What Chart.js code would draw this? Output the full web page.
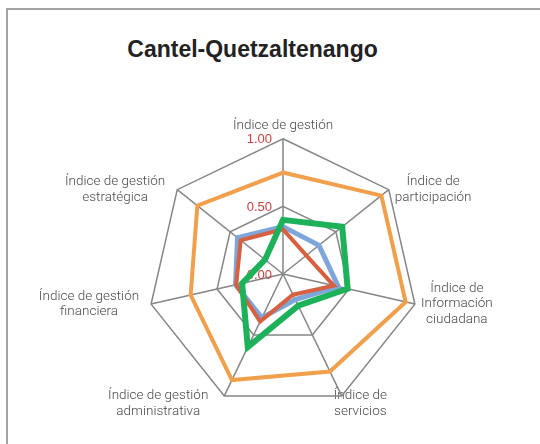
<!DOCTYPE html>
<html>
<head>
<meta charset="utf-8">
<script src="https://cdn.jsdelivr.net/npm/chart.js@4"></script>
<style>
	body { margin:0; width:540px; height:444px; overflow:hidden; background:#fff; position:relative; }
	.marco { position:absolute; left:6px; top:8px; width:700px; height:600px; border-left:2px solid #a3a3a3; border-top:2px solid #a3a3a3; }
	.titulo { position:absolute; left:0; top:38px; width:505px; text-align:center; font:bold 23px 'Liberation Sans', Arial, sans-serif; line-height:23px; color:#222; }
	.lienzo { position:absolute; left:0; top:0; width:540px; height:444px; }
</style>
</head>
<body>
<div class="marco"></div>
<div class="titulo">Cantel-Quetzaltenango</div>
<div class="lienzo"><canvas id="c"></canvas></div>
<script>
// categorias del radar
const indices = [
	['Índice de gestión'],
	['Índice de', 'participación'],
	['Índice de', 'Información', 'ciudadana'],
	['Índice de', 'servicios'],
	['Índice de gestión', 'administrativa'],
	['Índice de gestión', 'financiera'],
	['Índice de gestión', 'estratégica'],
]

// valores
const serieNaranja = [0.75, 0.93, 0.93, 0.80, 0.87, 0.70, 0.81]
const serieAzul    = [0.35, 0.34, 0.42, 0.21, 0.36, 0.36, 0.43]
const serieRoja    = [0.33, 0.22, 0.385, 0.17, 0.39, 0.355, 0.40]
const serieVerde   = [0.40, 0.56, 0.49, 0.26, 0.60, 0.31, 0.17]

const ejeMin = 0
const ejeMax = 1
const ejePaso = 0.5

// etiquetas de la escala en rojo, a la izquierda del eje vertical
const etiquetasEscala = {
	id: 'etiquetasEscala',
	beforeDatasetsDraw(chart) {
		const s = chart.scales.r
		const ctx = chart.ctx
		ctx.save()
		ctx.font = '13px "Liberation Sans", Arial, sans-serif'
		ctx.fillStyle = '#c8413f'
		ctx.textAlign = 'right'
		ctx.textBaseline = 'middle'
		s.ticks.forEach(t => {
			const p = s.getPointPositionForValue(0, t.value)
			ctx.fillText(t.value.toFixed(2), p.x - 11, p.y + 1)
		})
		ctx.restore()
	}
}

// acomoda las etiquetas como en excel: centradas y a media altura del vertice
const acomodarEtiquetas = s => {
	(s._pointLabelItems || []).forEach((it, i) => {
		const a = s.getIndexAngle(i)
		const v = s.getPointPosition(i, s.drawingArea)
		const w = it.right - it.left
		const h = it.bottom - it.top
		const cos = Math.cos(a), sin = Math.sin(a)
		if (cos > 0.99) return
		let left, top
		if (cos < -0.5) {
			top = v.y - 8
			left = sin > 0 ? v.x - 8 : v.x - 16 - w
		} else {
			top = v.y - h / 2
			left = sin > 0 ? v.x + 6 : v.x - 12 - w
		}
		it.left = left; it.right = left + w
		it.top = top; it.bottom = top + h
		it.x = left + w / 2; it.y = top
		it.textAlign = 'center'
	})
}

const serie = (label, data, color, width) => ({
	label, data,
	fill: false,
	borderColor: color,
	backgroundColor: color,
	borderWidth: width,
	pointRadius: 0,
	pointHoverRadius: 0,
	tension: 0,
	borderJoinStyle: 'miter',
})

const grafico = new Chart(document.getElementById('c'), {
	type: 'radar',
	data: {
		labels: indices,
		datasets: [
			serie('Serie 4', serieVerde, '#1db15a', 6),
			serie('Serie 3', serieRoja, '#d6603f', 4),
			serie('Serie 2', serieAzul, '#7fa6d9', 5),
			serie('Serie 1', serieNaranja, '#f0a04c', 4),
		]
	},
	options: {
		responsive: true,
		maintainAspectRatio: false,
		animation: false,
		layout: { padding: { left: 34, right: 32, top: 115, bottom: 9 } },
		plugins: {
			legend: { display: false },
			tooltip: { enabled: false },
		},
		scales: {
			r: {
				min: ejeMin,
				max: ejeMax,
				ticks: { stepSize: ejePaso, display: false },
				grid: { color: '#858585', lineWidth: 1.5 },
				angleLines: { color: '#858585', lineWidth: 1.5 },
				pointLabels: {
					color: '#4a4a4a',
					padding: 5,
					font: { family: 'Roboto', size: 13.5, weight: '300', lineHeight: 1.17 },
				},
				afterFit: acomodarEtiquetas,
			}
		}
	},
	plugins: [etiquetasEscala]
})
</script>
</body>
</html>
